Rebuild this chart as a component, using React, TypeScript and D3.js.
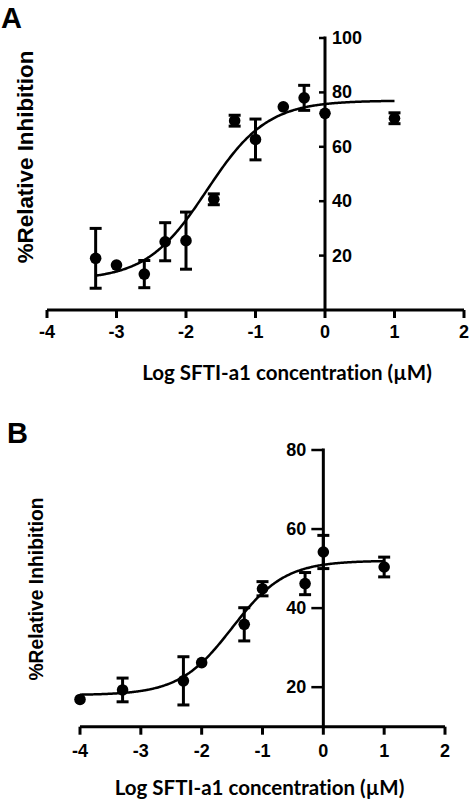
import React from "react";
import * as d3 from "d3";

// Panel A data
const aX = [-3.3, -3, -2.6, -2.3, -2, -1.6, -1.3, -1, -0.6, -0.3, 0, 1];
const aY = [19, 16.5, 13.2, 25.1, 25.5, 40.7, 69.6, 62.7, 74.7, 78, 72.3, 70.5];
const aErr = [11, 0, 5, 7, 10.5, 2, 2, 7.5, 0, 4.6, 0, 2];
const aFit = { bottom: 11, top: 77, logEC50: -1.7, hill: 1, from: -3.3, to: 1 };
const aXTicks = [-4, -3, -2, -1, 0, 1, 2];
const aYTicks = [20, 40, 60, 80, 100];

// Panel B data
const bX = [-4, -3.3, -2.3, -2, -1.3, -1, -0.3, 0, 1];
const bY = [16.9, 19.3, 21.6, 26.2, 35.9, 44.9, 46.2, 54.2, 50.4];
const bErr = [0, 3, 6.1, 0, 4.2, 1.8, 2.8, 4.2, 2.5];
const bFit = { bottom: 18, top: 52, logEC50: -1.5, hill: 1, from: -4, to: 1 };
const bXTicks = [-4, -3, -2, -1, 0, 1, 2];
const bYTicks = [20, 40, 60, 80];

const xTitle = "Log SFTI-a1 concentration (\u00b5M)";
const yTitle = "%Relative Inhibition";

const tickFont = "'Liberation Sans', Arial, sans-serif";
const titleFont = "Lato, 'Open Sans', sans-serif";

type Fit = { bottom: number; top: number; logEC50: number; hill: number; from: number; to: number };

function sigmoid(f: Fit, x: number) {
  return f.bottom + (f.top - f.bottom) / (1 + Math.pow(10, (f.logEC50 - x) * f.hill));
}

function Panel(props: {
  xs: number[]; ys: number[]; errs: number[]; fit: Fit;
  xTicks: number[]; yTicks: number[];
  xRange: [number, number]; yDomain: [number, number]; yRange: [number, number];
  labelsRight: boolean; yTitleX: number; yTitleY: number; yTitleSize: number;
  xTitleY: number; xTitleX: number; tickLabelY: number;
}) {
  const { xs, ys, errs, fit, xTicks, yTicks, labelsRight } = props;
  const x = d3.scaleLinear().domain([-4, 2]).range(props.xRange);
  const y = d3.scaleLinear().domain(props.yDomain).range(props.yRange);
  const x0 = x(0);
  const yBase = y(props.yDomain[0]);
  const fitXs = d3.range(fit.from, fit.to + 0.0001, 0.02);
  const line = d3.line<number>().x((d) => x(d)).y((d) => y(sigmoid(fit, d))).curve(d3.curveBasis);
  const yTop = y(yTicks[yTicks.length - 1]);
  return (
    <g>
      {/* fitted curve */}
      <path d={line(fitXs) || ""} fill="none" stroke="#000" strokeWidth={2.5} />
      {/* axes */}
      <line x1={x(-4)} x2={x(2)} y1={yBase} y2={yBase} stroke="#000" strokeWidth={3} />
      <line x1={x0} x2={x0} y1={yTop - 1.5} y2={yBase} stroke="#000" strokeWidth={3} />
      {xTicks.map((t) => (
        <g key={"xt" + t}>
          <line x1={x(t)} x2={x(t)} y1={yBase} y2={yBase + 8} stroke="#000" strokeWidth={3} />
          <text x={x(t)} y={props.tickLabelY} textAnchor="middle" dominantBaseline="central"
            fontFamily={tickFont} fontWeight="bold" fontSize={18}>{t < 0 ? "-" + Math.abs(t) : t}</text>
        </g>
      ))}
      {yTicks.map((t) => (
        <g key={"yt" + t}>
          <line x1={x0 - (labelsRight ? 6 : 12)} x2={x0} y1={y(t)} y2={y(t)} stroke="#000" strokeWidth={2.5} />
          <text x={labelsRight ? x0 + 7 : x0 - 17} y={y(t)} textAnchor={labelsRight ? "start" : "end"}
            dominantBaseline="central" fontFamily={tickFont} fontWeight="bold" fontSize={18}>{t}</text>
        </g>
      ))}
      {/* points with error bars */}
      {xs.map((xv, i) => {
        const cx = x(xv);
        const e = errs[i];
        return (
          <g key={"p" + i}>
            {e > 0 && (
              <g stroke="#000" strokeWidth={3}>
                <line x1={cx} x2={cx} y1={y(ys[i] + e)} y2={y(ys[i] - e)} />
                <line x1={cx - 6} x2={cx + 6} y1={y(ys[i] + e)} y2={y(ys[i] + e)} />
                <line x1={cx - 6} x2={cx + 6} y1={y(ys[i] - e)} y2={y(ys[i] - e)} />
              </g>
            )}
            <circle cx={cx} cy={y(ys[i])} r={5.8} fill="#000" />
          </g>
        );
      })}
      <text transform={`translate(${props.yTitleX},${props.yTitleY}) rotate(-90)`} textAnchor="middle"
        dominantBaseline="central" fontFamily={tickFont} fontWeight="bold" fontSize={props.yTitleSize}>{yTitle}</text>
      <text x={props.xTitleX} y={props.xTitleY} textAnchor="middle" dominantBaseline="central"
        fontFamily={titleFont} fontWeight="bold" fontSize={20.5}
        style={{ fontVariantLigatures: "none" }}>{xTitle}</text>
    </g>
  );
}

export default function App() {
  return (
    <svg width={472} height={800} style={{ position: "absolute", left: 0, top: 0, background: "#fff" }}>
      <text x={1} y={18} dominantBaseline="central" fontFamily={tickFont} fontWeight="bold" fontSize={29}>A</text>
      <text x={7} y={433} dominantBaseline="central" fontFamily={tickFont} fontWeight="bold" fontSize={29}>B</text>
      <Panel xs={aX} ys={aY} errs={aErr} fit={aFit} xTicks={aXTicks} yTicks={aYTicks}
        xRange={[47, 464]} yDomain={[0, 100]} yRange={[310, 38]} labelsRight={true}
        yTitleX={25} yTitleY={157} yTitleSize={22.4} xTitleX={287} xTitleY={372} tickLabelY={332} />
      <Panel xs={bX} ys={bY} errs={bErr} fit={bFit} xTicks={bXTicks} yTicks={bYTicks}
        xRange={[80, 445]} yDomain={[10, 80]} yRange={[726.7, 450]} labelsRight={false}
        yTitleX={36} yTitleY={589} yTitleSize={19.3} xTitleX={259.5} xTitleY={787} tickLabelY={751} />
    </svg>
  );
}
